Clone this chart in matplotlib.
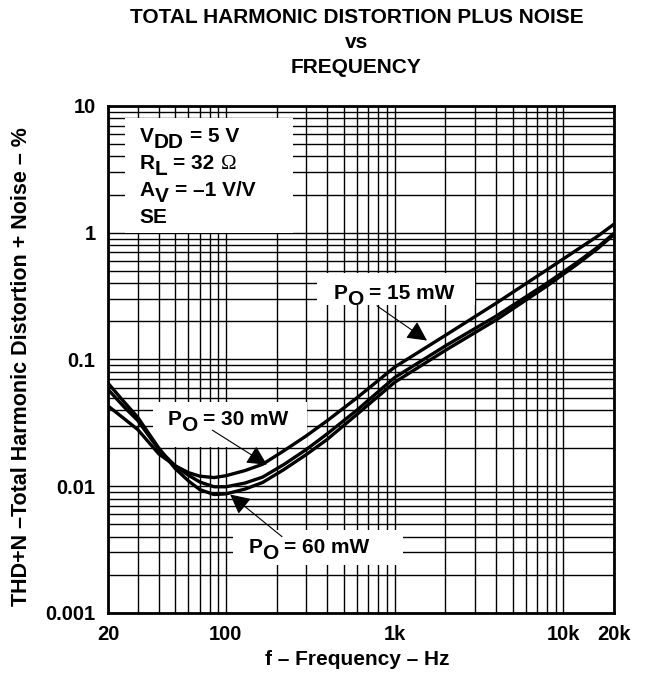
import matplotlib
matplotlib.use('Agg')
import matplotlib.pyplot as plt
from matplotlib.patches import Rectangle

plt.rcParams['font.family'] = ['Liberation Sans', 'DejaVu Sans']
plt.rcParams['font.weight'] = 'bold'

# THD+N (%)
freq = [20, 25, 30, 40, 50, 60, 70, 85, 100, 130, 165, 220, 300, 400, 600,
        1000, 2000, 4000, 8000, 12000, 16000, 20000]
thd_15mw = [0.043, 0.034, 0.028, 0.018, 0.0145, 0.0128, 0.0120, 0.0117, 0.0121, 0.0133,
            0.0149, 0.019, 0.025, 0.033, 0.050, 0.087, 0.155, 0.278, 0.51, 0.73, 0.94, 1.17]
thd_30mw = [0.058, 0.042, 0.033, 0.0195, 0.0145, 0.0122, 0.0108, 0.0099, 0.0099, 0.0106,
            0.0118, 0.0148, 0.0195, 0.026, 0.040, 0.072, 0.128, 0.22, 0.40, 0.58, 0.77, 0.99]
thd_60mw = [0.065, 0.046, 0.035, 0.020, 0.0138, 0.0110, 0.0094, 0.0086, 0.0087, 0.0095,
            0.0107, 0.0135, 0.0178, 0.0235, 0.037, 0.066, 0.118, 0.205, 0.38, 0.56, 0.75, 0.97]

xticks = [20, 100, 1000, 10000, 20000]
xticklabels = ['20', '100', '1k', '10k', '20k']
yticks = [0.001, 0.01, 0.1, 1, 10]
yticklabels = ['0.001', '0.01', '0.1', '1', '10']

fig = plt.figure(figsize=(6.53, 6.81), dpi=100)
ax = fig.add_axes([0.1654, 0.0999, 0.775, 0.7445])
ax.set_xscale('log')
ax.set_yscale('log')
ax.set_xlim(20, 20000)
ax.set_ylim(0.001, 10)

ax.set_axisbelow(True)
ax.grid(which='both', color='black', lw=1.0)
ax.tick_params(which='both', length=0, labelsize=14.5, pad=9)
ax.set_xticks(xticks)
ax.set_xticklabels(xticklabels, fontweight='bold')
ax.set_yticks(yticks)
ax.set_yticklabels(yticklabels, fontweight='bold')
ax.minorticks_on()
for s in ax.spines.values():
    s.set_linewidth(2)

# white boxes hiding the grid behind the labels
for x0, y0, w, h in [(0.034, 0.750, 0.332, 0.226),
                     (0.413, 0.6075, 0.312, 0.063),
                     (0.089, 0.327, 0.304, 0.089),
                     (0.247, 0.0947, 0.336, 0.069)]:
    ax.add_patch(Rectangle((x0, y0), w, h, transform=ax.transAxes,
                           facecolor='white', edgecolor='none', zorder=2))

for y in [thd_15mw, thd_30mw, thd_60mw]:
    ax.plot(freq, y, color='black', lw=2.4, zorder=3, solid_capstyle='butt')

renderer = fig.canvas.get_renderer()


def label(x, y, parts, fs=15):
    # parts: (text, is_subscript, family) drawn one after the other on a baseline
    dx = 0
    for s, sub, fam in parts:
        if s.startswith(' '):
            dx += 0.278 * fs * 100 / 72
            s = s.lstrip()
        dy = -0.3 * fs * 100 / 72 if sub else 0
        kw = dict(fontweight='bold')
        if fam:
            kw = dict(family=fam, fontweight='normal')
        t = ax.annotate(s, (x, y), xycoords='axes fraction', xytext=(dx, dy),
                        textcoords='offset pixels', fontsize=fs, va='baseline',
                        ha='left', zorder=4, **kw)
        dx += t.get_window_extent(renderer).width


label(0.063, 0.929, [('V', False, None), ('DD', True, None), (' = 5 V', False, None)])
label(0.063, 0.876, [('R', False, None), ('L', True, None), (' = 32', False, None),
                     (' Ω', False, 'Liberation Serif')])
label(0.063, 0.822, [('A', False, None), ('V', True, None), (' = –1 V/V', False, None)])
label(0.063, 0.769, [('SE', False, None)])

label(0.445, 0.619, [('P', False, None), ('O', True, None), (' = 15 mW', False, None)])
label(0.117, 0.371, [('P', False, None), ('O', True, None), (' = 30 mW', False, None)])
label(0.277, 0.118, [('P', False, None), ('O', True, None), (' = 60 mW', False, None)])

arrow = dict(arrowstyle='-|>,head_length=0.55,head_width=0.28', color='black', lw=0.8,
             mutation_scale=22, shrinkA=0, shrinkB=0)
ax.annotate('', xy=(1556, 0.141), xytext=(786, 0.265), arrowprops=arrow, zorder=4)
ax.annotate('', xy=(175, 0.0148), xytext=(83, 0.0277), arrowprops=arrow, zorder=4)
ax.annotate('', xy=(106, 0.0086), xytext=(215, 0.0040), arrowprops=arrow, zorder=4)

fig.text(0.547, 0.031, 'f – Frequency – Hz', ha='center', va='center',
         fontsize=15, fontweight='bold')
fig.text(22 / 653, 0.461, 'THD+N –Total Harmonic Distortion + Noise – %', rotation=90,
         ha='center', va='center', fontsize=15.5, fontweight='bold')

fig.text(0.546, 0.975, 'TOTAL HARMONIC DISTORTION PLUS NOISE', ha='center', va='center',
         fontsize=15, fontweight='bold')
fig.text(0.546, 0.938, 'vs', ha='center', va='center', fontsize=15, fontweight='bold')
fig.text(0.546, 0.901, 'FREQUENCY', ha='center', va='center', fontsize=15, fontweight='bold')

fig.savefig('out.png', dpi=100)
